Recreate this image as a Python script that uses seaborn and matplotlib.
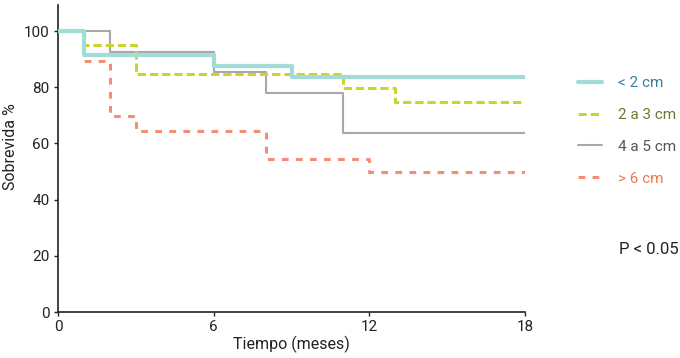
import matplotlib
matplotlib.use("Agg")
import matplotlib.pyplot as plt
import seaborn as sns
import pandas as pd
from matplotlib.lines import Line2D
from matplotlib import font_manager

sns.set_theme(style="white")
names = {f.name for f in font_manager.fontManager.ttflist}
narrow = "Liberation Sans Narrow" if "Liberation Sans Narrow" in names else "Roboto"
plt.rcParams['font.family'] = [narrow, 'DejaVu Sans']

# Data (step survival curves)
labels = ["< 2 cm", "2 a 3 cm", "4 a 5 cm", "> 6 cm"]
t_lt2 = [0, 1, 6, 9, 18]
s_lt2 = [100, 91.5, 87.7, 83.6, 83.6]
t_2a3 = [0, 1, 3, 11, 13, 18]
s_2a3 = [100, 95.0, 84.7, 79.7, 74.8, 74.8]
t_4a5 = [0, 2, 6, 8, 11, 18]
s_4a5 = [100, 92.5, 85.6, 77.8, 63.8, 63.8]
t_gt6 = [0, 1, 2, 3, 8, 12, 18]
s_gt6 = [100, 89.3, 69.8, 64.3, 54.4, 49.7, 49.7]
x_ticks = [0, 6, 12, 18]
y_ticks = [0, 20, 40, 60, 80, 100]

series = {
    "< 2 cm": (t_lt2, s_lt2),
    "2 a 3 cm": (t_2a3, s_2a3),
    "4 a 5 cm": (t_4a5, s_4a5),
    "> 6 cm": (t_gt6, s_gt6),
}

styles = {
    "< 2 cm": dict(color="#a2dcd6", lw=3.0, ls="-", z=5),
    "2 a 3 cm": dict(color="#c9d42e", lw=2.2, ls=(0, (2.7, 1.3)), z=4),
    "4 a 5 cm": dict(color="#a8a8a8", lw=1.5, ls="-", z=2),
    "> 6 cm": dict(color="#f58d72", lw=2.2, ls=(0, (2.2, 2.4)), z=3),
}
text_colors = ["#3c7fa0", "#6b7a2e", "#555555", "#f07a4a"]

fig = plt.figure(figsize=(6.8, 3.58), dpi=100)
ax = fig.add_axes([58/680, 1-312/358, (525-58)/680, (312-5)/358])

for name in ["4 a 5 cm", "> 6 cm", "2 a 3 cm", "< 2 cm"]:
    t, s = series[name]
    st = styles[name]
    df = pd.DataFrame({"t": t, "s": s})
    sns.lineplot(data=df, x="t", y="s", ax=ax, drawstyle="steps-post",
                 color=st["color"], linewidth=st["lw"], linestyle=st["ls"],
                 zorder=st["z"], legend=False)

ax.set_xlim(0, 18)
ax.set_ylim(0, 109.3)
ax.set_xticks(x_ticks)
ax.set_yticks(y_ticks)
ax.set_xlabel("Tiempo (meses)", fontsize=11.5, color="#222222", labelpad=1)
ax.set_ylabel("Sobrevida %", fontsize=11.5, color="#222222", labelpad=5)
ax.yaxis.set_label_coords(-0.085, 0.54)
ax.tick_params(axis="both", labelsize=11, colors="#222222", length=3, width=1,
               direction="out", bottom=True, left=True, pad=3)
for sp in ["top", "right"]:
    ax.spines[sp].set_visible(False)
for sp in ["left", "bottom"]:
    ax.spines[sp].set_color("#222222")
    ax.spines[sp].set_linewidth(1.2)
ax.grid(False)

handles = [Line2D([0], [0], color=styles[n]["color"], lw=styles[n]["lw"],
                  ls=styles[n]["ls"]) for n in labels]
fig.legend(handles, labels, loc="upper left", bbox_to_anchor=(578/680, 1-76/358),
           frameon=False, fontsize=11, handlelength=1.6, handletextpad=1.05,
           labelspacing=1.17, labelcolor=text_colors, borderpad=0, borderaxespad=0)

fig.text(619/680, 1-250/358, "P < 0.05", fontsize=12, color="#222222",
         va="center", ha="left")

fig.savefig("out.png", dpi=100)
